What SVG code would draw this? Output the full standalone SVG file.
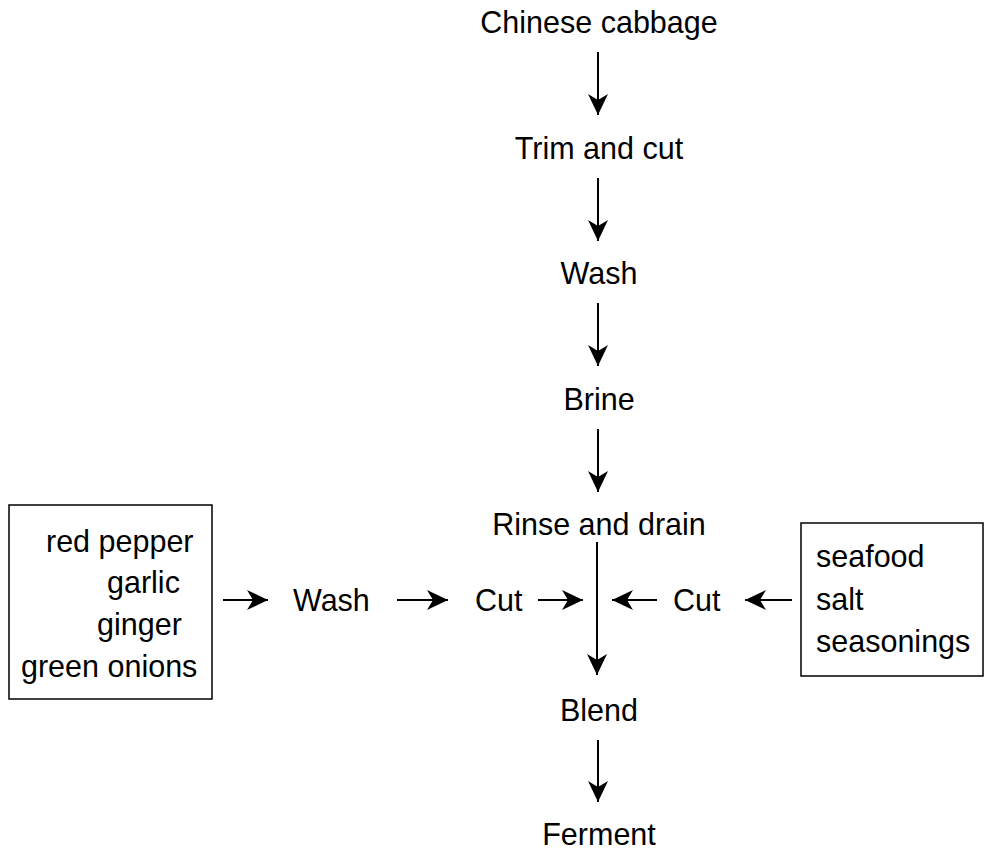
<svg xmlns="http://www.w3.org/2000/svg" width="984" height="851" viewBox="0 0 984 851">
  <defs>
    <marker id="head" markerUnits="userSpaceOnUse" markerWidth="24" markerHeight="24" viewBox="-22 -12 24 24" refX="0" refY="0" orient="auto">
      <path d="M0,0 L-21,-10 L-15,0 L-21,10 Z" fill="#000"/>
    </marker>
  </defs>
  <style>
    text { font-family: "Liberation Sans", Arial, Helvetica, sans-serif; font-size: 30.5px; fill: #000; }
    .c { text-anchor: middle; }
    .arrow { stroke: #000; stroke-width: 2; fill: none; marker-end: url(#head); }
    .box { fill: #fff; stroke: #000; stroke-width: 1.5; }
  </style>
  <rect width="984" height="851" fill="#fff"/>

  <!-- main column of steps -->
  <g id="n-cabbage"><text class="c" x="599" y="33">Chinese cabbage</text></g>
  <g id="n-trim"><text class="c" x="599" y="159">Trim and cut</text></g>
  <g id="n-wash"><text class="c" x="599" y="284">Wash</text></g>
  <g id="n-brine"><text class="c" x="599" y="410">Brine</text></g>
  <g id="n-rinse"><text class="c" x="599" y="535">Rinse and drain</text></g>
  <g id="n-blend"><text class="c" x="599" y="721">Blend</text></g>
  <g id="n-ferment"><text class="c" x="599" y="845">Ferment</text></g>

  <!-- left ingredient branch -->
  <g id="n-spices">
    <rect class="box" x="9" y="505" width="203" height="194"/>
    <text x="46" y="552">red pepper</text>
    <text x="107" y="593">garlic</text>
    <text x="97" y="635">ginger</text>
    <text x="21" y="677">green onions</text>
  </g>
  <g id="n-wash2"><text x="293" y="611">Wash</text></g>
  <g id="n-cut-left"><text x="475" y="611">Cut</text></g>

  <!-- right ingredient branch -->
  <g id="n-cut-right"><text x="673" y="611">Cut</text></g>
  <g id="n-seafood">
    <rect class="box" x="801" y="523" width="182" height="153"/>
    <text x="816" y="567">seafood</text>
    <text x="816" y="610">salt</text>
    <text x="816" y="652">seasonings</text>
  </g>

  <g id="connectors">
    <line class="arrow" x1="598" y1="52" x2="598" y2="115"/>
    <line class="arrow" x1="598" y1="178" x2="598" y2="241"/>
    <line class="arrow" x1="598" y1="303" x2="598" y2="366"/>
    <line class="arrow" x1="598" y1="429" x2="598" y2="492"/>
    <line class="arrow" x1="597" y1="542" x2="597" y2="675"/>
    <line class="arrow" x1="598" y1="740" x2="598" y2="802"/>

    <line class="arrow" x1="223" y1="600" x2="268" y2="600"/>
    <line class="arrow" x1="397" y1="600" x2="448" y2="600"/>
    <line class="arrow" x1="538" y1="600" x2="583" y2="600"/>
    <line class="arrow" x1="657" y1="600" x2="612" y2="600"/>
    <line class="arrow" x1="792" y1="600" x2="745" y2="600"/>
  </g>
</svg>
